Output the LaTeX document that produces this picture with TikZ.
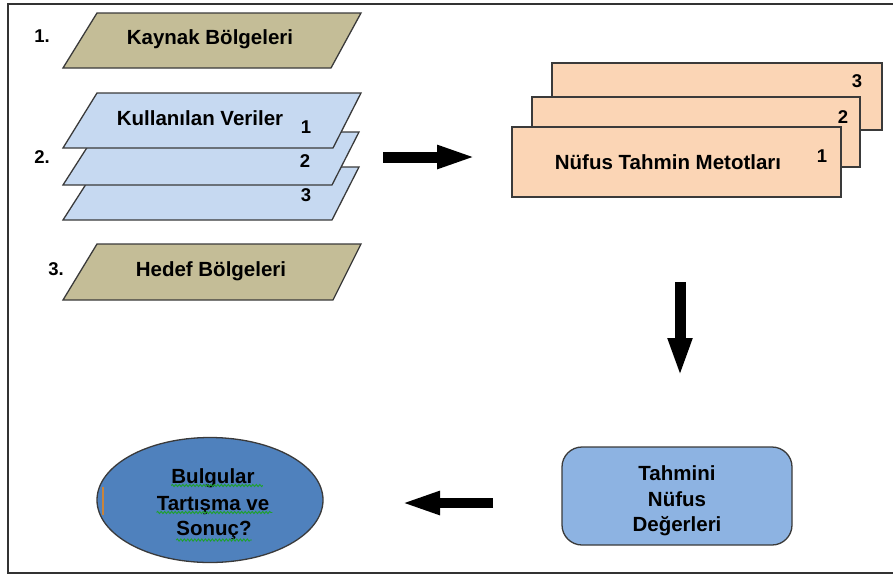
\documentclass[tikz,border=0pt]{standalone}
\usepackage{fontspec}
\setmainfont{Liberation Sans}
\usetikzlibrary{arrows.meta,shapes.geometric,decorations.pathmorphing}
\definecolor{tanfill}{HTML}{C4BD97}
\definecolor{bluelight}{HTML}{C6D9F1}
\definecolor{orangelight}{HTML}{FBD5B5}
\definecolor{bluemid}{HTML}{8DB3E2}
\definecolor{bluedark}{HTML}{4F81BD}
\definecolor{edgegray}{HTML}{3A3A3A}
\definecolor{spellgreen}{HTML}{1FA02F}
\definecolor{cursorbar}{HTML}{C8843C}
\tikzset{
  shapeedge/.style={draw=edgegray, line width=1.3pt},
  boldtxt/.style={font=\fontsize{20.5}{25}\selectfont\bfseries, text=black, inner sep=0pt},
  numtxt/.style={font=\fontsize{18.5}{22}\selectfont\bfseries, text=black, inner sep=0pt},
  blockarrow/.style={line width=11pt, draw=black},
  wavy/.style={draw=spellgreen, line width=0.9pt, decorate, decoration={snake, amplitude=1.1pt, segment length=3.5pt}},
}
\begin{document}
\begin{tikzpicture}[x=1pt,y=-1pt]
\useasboundingbox (0,0) rectangle (893,576);
% frame
\draw[line width=1.2pt, draw=black!80] (893,4) -- (8,4) -- (8,573) -- (893,573);

% 1. Kaynak
\node[numtxt] (n1) at (42,36) {1.};
\filldraw[shapeedge, fill=tanfill] (97,13) -- (361,13) -- (331,68) -- (63,68) -- cycle;
\node[boldtxt] (kaynak) at (210,39) {Kaynak Bölgeleri};

% 2. stacked parallelograms
\node[numtxt] (n2) at (42,157) {2.};
\filldraw[shapeedge, fill=bluelight] (97,167) -- (359,167) -- (332,220) -- (63,220) -- cycle;
\filldraw[shapeedge, fill=bluelight] (97,132) -- (359,132) -- (332,185) -- (63,185) -- cycle;
\filldraw[shapeedge, fill=bluelight] (97,93) -- (361,93) -- (333,148) -- (63,148) -- cycle;
\node[boldtxt] (veriler) at (200,118) {Kullanılan Veriler};
\node[numtxt] (v1) at (306,127) {1};
\node[numtxt] (v2) at (305,161) {2};
\node[numtxt] (v3) at (306,195) {3};

% 3. Hedef
\node[numtxt] (n3) at (56,269) {3.};
\filldraw[shapeedge, fill=tanfill] (97,244) -- (361,244) -- (333,300) -- (63,300) -- cycle;
\node[boldtxt] (hedef) at (211,271) {Hedef Bölgeleri};

% stacked rectangles
\filldraw[shapeedge, fill=orangelight] (552,63) rectangle (882,130);
\filldraw[shapeedge, fill=orangelight] (532,97) rectangle (860,167);
\filldraw[shapeedge, fill=orangelight] (512,127) rectangle (841,197);
\node[boldtxt] (metot) at (668,162) {Nüfus Tahmin Metotları};
\node[numtxt] (m1) at (822,156) {1};
\node[numtxt] (m2) at (843,117) {2};
\node[numtxt] (m3) at (857,81) {3};

% rounded box
\node[shapeedge, fill=bluemid, rounded corners=20pt, minimum width=230pt, minimum height=98pt, inner sep=0pt] (tahmin) at (677,496) {};
\node[boldtxt, align=center, font=\fontsize{20.5}{25.5}\selectfont\bfseries] (tahmintxt) at (677,501) {Tahmini\\Nüfus\\Değerleri};

% ellipse
\node[ellipse, shapeedge, fill=bluedark, minimum width=226pt, minimum height=125pt, inner sep=0pt] (sonuc) at (210,500) {};
\node[boldtxt, anchor=base] (s1) at (213,483) {Bulgular};
\node[boldtxt, anchor=base] (s2) at (213,510) {Tartışma ve};
\node[boldtxt, anchor=base] (s3) at (214,535) {Sonuç?};
\draw[wavy] ([yshift=-2.5pt]s1.base west) -- ([xshift=8pt,yshift=-2.5pt]s1.base east);
\draw[wavy] ([yshift=-2.5pt]s2.base west) -- ([xshift=3pt,yshift=-2.5pt]s2.base east);
\draw[wavy] ([yshift=-5pt]s3.base west) -- ([yshift=-5pt]s3.base east);
\draw[draw=cursorbar, line width=2pt] (103,487) -- (103,515);

% block arrows
\coordinate (a1s) at (383,157);
\coordinate (a1e) at (477,157);
\draw[blockarrow, -{Triangle[length=40pt,width=21pt]}] (a1s) -- (a1e);
\coordinate (a2s) at (680,282);
\coordinate (a2e) at (680,377);
\draw[blockarrow, -{Triangle[length=39pt,width=22pt]}] (a2s) -- (a2e);
\coordinate (a3s) at (493,503);
\coordinate (a3e) at (400,503);
\draw[blockarrow, line width=10pt, -{Triangle[length=40pt,width=21pt]}] (a3s) -- (a3e);
\end{tikzpicture}
\end{document}
